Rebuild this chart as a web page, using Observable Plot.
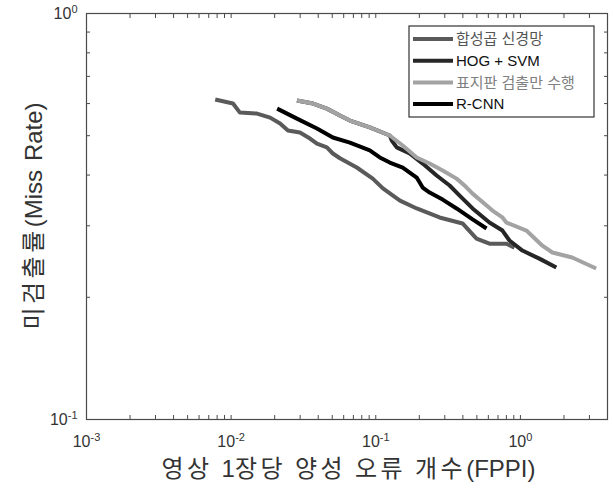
<!DOCTYPE html>
<html>
<head>
<meta charset="utf-8">
<script src="https://cdn.jsdelivr.net/npm/d3@7"></script>
<script src="https://cdn.jsdelivr.net/npm/@observablehq/plot@0.6"></script>
<style>
  html, body { margin: 0; padding: 0; background: #fff; }
  #chart { position: relative; width: 613px; height: 492px; }
</style>
</head>
<body>
<div id="chart"></div>
<script>
// ---- data ----
const seriesNames = ["합성곱 신경망", "HOG + SVM", "표지판 검출만 수행", "R-CNN"];
const seriesColors = ["#5a5a5a", "#262626", "#a3a3a3", "#000000"];

const cnnX = [0.00776, 0.0103, 0.0115, 0.0151, 0.0186, 0.0218, 0.0247, 0.0299, 0.0351, 0.0392, 0.0459, 0.0505, 0.0565, 0.0739, 0.0953, 0.112, 0.147, 0.192, 0.276, 0.398, 0.497, 0.611, 0.80, 0.91];
const cnnY = [0.614, 0.600, 0.570, 0.567, 0.554, 0.536, 0.515, 0.509, 0.492, 0.478, 0.468, 0.452, 0.440, 0.4175, 0.392, 0.371, 0.346, 0.331, 0.3145, 0.304, 0.279, 0.271, 0.271, 0.265];

const hogX = [0.0285, 0.0368, 0.0459, 0.0565, 0.0662, 0.0909, 0.125, 0.129, 0.1396, 0.1716, 0.211, 0.2635, 0.324, 0.38, 0.467, 0.611, 0.751, 0.84, 1.032, 1.352, 1.771];
const hogY = [0.6105, 0.600, 0.583, 0.561, 0.545, 0.524, 0.5006, 0.4866, 0.468, 0.452, 0.427, 0.399, 0.377, 0.356, 0.331, 0.3056, 0.292, 0.276, 0.2607, 0.249, 0.2368];

const signX = [0.0285, 0.0368, 0.0459, 0.0565, 0.0662, 0.0909, 0.125, 0.1536, 0.1918, 0.2357, 0.29, 0.362, 0.411, 0.467, 0.641, 0.751, 0.80, 1.10, 1.418, 1.663, 2.28, 3.34];
const signY = [0.6105, 0.600, 0.583, 0.561, 0.545, 0.524, 0.5006, 0.473, 0.442, 0.427, 0.4106, 0.392, 0.377, 0.360, 0.327, 0.3145, 0.3056, 0.292, 0.268, 0.2578, 0.2506, 0.2355];

const rcnnX = [0.0208, 0.0285, 0.0392, 0.0505, 0.0662, 0.0909, 0.1066, 0.125, 0.1536, 0.1918, 0.211, 0.2357, 0.29, 0.362, 0.467, 0.583];
const rcnnY = [0.583, 0.551, 0.521, 0.495, 0.481, 0.460, 0.442, 0.4295, 0.4175, 0.3945, 0.3727, 0.3623, 0.348, 0.331, 0.311, 0.2954];

const xTickValues = [0.001, 0.01, 0.1, 1];
const xTickLabels = ["10^-3", "10^-2", "10^-1", "10^0"];
const yTickValues = [0.1, 1];
const yTickLabels = ["10^-1", "10^0"];
const xTitle = "영상 1장당 양성 오류 개수(FPPI)";
const yTitle = "미검출률(Miss Rate)";

// ---- build ----
const toRows = (xs, ys) => xs.map((x, i) => ({x, y: ys[i]}));
const seriesRows = [toRows(cnnX, cnnY), toRows(hogX, hogY), toRows(signX, signY), toRows(rcnnX, rcnnY)];

// minor tick positions (1..9 × each decade) inside the domains
const xMinor = [];
for (const d of [0.001, 0.01, 0.1, 1]) for (let k = 1; k <= 9; k++) { const v = k * d; if (v <= 4 + 1e-9) xMinor.push(v); }
const yMinor = [];
for (let k = 1; k <= 10; k++) yMinor.push(k * 0.1);

const fontLatin = "'Liberation Sans', Arial, 'Noto Sans CJK KR', sans-serif";
const axisColor = "#4a4a4a";

const fmtX = d => xTickLabels[xTickValues.findIndex(v => Math.abs(v - d) / d < 1e-6)] ?? "";
const fmtY = d => yTickLabels[yTickValues.findIndex(v => Math.abs(v - d) / d < 1e-6)] ?? "";

const chart = Plot.plot({
  width: 613,
  height: 492,
  marginLeft: 86,
  marginRight: 6,
  marginTop: 13,
  marginBottom: 73,
  style: {background: "#fff", fontFamily: fontLatin, color: axisColor},
  x: {type: "log", domain: [0.001, 4]},
  y: {type: "log", domain: [0.1, 1]},
  marks: [
    ...seriesRows.map((rows, i) => Plot.line(rows, {
      x: "x", y: "y", stroke: seriesColors[i], strokeWidth: 4,
      strokeLinejoin: "round", strokeLinecap: "butt"
    })),
    Plot.frame({stroke: axisColor, strokeWidth: 1.2}),
    // inward ticks
    Plot.axisX(xMinor, {anchor: "bottom", tickSize: -4, tickFormat: () => "", label: null, stroke: axisColor}),
    Plot.axisX(xMinor, {anchor: "top", tickSize: -4, tickFormat: () => "", label: null, stroke: axisColor}),
    Plot.axisY(yMinor, {anchor: "left", tickSize: -4, tickFormat: () => "", label: null, stroke: axisColor}),
    Plot.axisY(yMinor, {anchor: "right", tickSize: -4, tickFormat: () => "", label: null, stroke: axisColor}),
    // labels
    Plot.axisX(xTickValues, {anchor: "bottom", tickSize: 0, tickPadding: 16, tickFormat: fmtX, label: null, fontSize: 16, fill: "#333", ariaLabel: "xlabels"}),
    Plot.axisY(yTickValues, {anchor: "left", tickSize: 0, tickPadding: 9, tickFormat: fmtY, label: null, fontSize: 16, fill: "#333", ariaLabel: "ylabels"})
  ]
});

document.getElementById("chart").appendChild(chart);

const svg = d3.select(chart);

// superscripts for tick labels
svg.selectAll("text").each(function() {
  const t = d3.select(this);
  const s = t.text();
  const m = /^10\^(-?\d+)$/.exec(s);
  if (!m) return;
  t.text("10");
  t.append("tspan").attr("dy", "-0.55em").attr("font-size", "11px").text(m[1]);
});
svg.selectAll("g[aria-label='ylabels'] text").attr("transform", function() {
  const tr = d3.select(this).attr("transform") || "";
  return tr + " translate(0,3)";
});

// axis titles: Korean runs get extra letter-spacing to match wide Korean face
function addTitle(sel, str) {
  const runs = str.match(/[\uAC00-\uD7A3\s]+|[^\uAC00-\uD7A3\s]+/g);
  runs.forEach(r => {
    const isKR = /[\uAC00-\uD7A3]/.test(r) || /^\s+$/.test(r);
    sel.append("tspan")
      .attr("font-family", isKR ? "'Noto Sans CJK KR', sans-serif" : fontLatin)
      .attr("letter-spacing", isKR ? "3.5px" : "0px")
      .text(r);
  });
}
const xt = svg.append("text")
  .attr("x", (86 + 607) / 2 + 2).attr("y", 477)
  .attr("text-anchor", "middle")
  .attr("font-size", 24).attr("fill", "#333");
addTitle(xt, xTitle);
const yt = svg.append("text")
  .attr("transform", `translate(42, ${(13 + 419) / 2}) rotate(-90)`)
  .attr("text-anchor", "middle")
  .attr("font-size", 24).attr("fill", "#333");
addTitle(yt, yTitle);

// legend
const lg = svg.append("g").attr("transform", "translate(409,26)");
lg.append("rect").attr("width", 185).attr("height", 91).attr("fill", "#fff").attr("stroke", "#333").attr("stroke-width", 1.2);
seriesNames.forEach((name, i) => {
  const yy = 13 + i * 21.7;
  lg.append("line").attr("x1", 4).attr("x2", 44).attr("y1", yy).attr("y2", yy)
    .attr("stroke", seriesColors[i]).attr("stroke-width", 4);
  lg.append("text").attr("x", 47).attr("y", yy).attr("dy", "0.35em")
    .attr("text-anchor", "start")
    .attr("font-family", fontLatin).attr("font-size", 15)
    .attr("fill", i === 2 ? "#808080" : (i === 0 ? "#555" : "#111"))
    .text(name);
});
</script>
</body>
</html>
